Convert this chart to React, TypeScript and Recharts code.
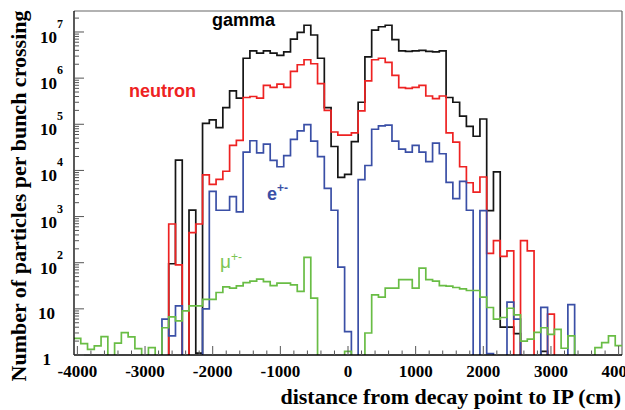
import { LineChart, Line, XAxis, YAxis, ReferenceLine } from "recharts";

// histogram: 81 bins of 100 cm, centred on -4000 ... 4000
const X_MIN = -4050;
const X_MAX = 4050;
const BIN_WIDTH = 100;
const Y_MIN = 1;
const Y_MAX = 2.85e7;

const gamma = [
  0, 0, 0, 0, 0, 0, 0, 0, 0, 0,
  0, 0, 0, 0, 95, 16700, 0, 1380, 1.1, 105000,
  124000, 85000, 230000, 530000, 370000, 2.7e6, 3.9e6, 3.5e6, 3.9e6, 3.5e6,
  3.1e6, 3.7e6, 7e6, 9.8e6, 1.4e7, 8.6e6, 2.7e6, 230000, 33000, 7100,
  8200, 42000, 300000, 2.9e6, 1.1e7, 1.3e7, 1.4e7, 6.8e6, 3.9e6, 3.8e6,
  3.9e6, 4e6, 3.8e6, 3.7e6, 3.9e6, 380000, 300000, 150000, 90000, 55000,
  130000, 1350, 9300, 4, 4, 2.9, 0, 0, 0, 1.2,
  0, 0, 0, 0, 0, 0, 0, 0, 0, 0,
  0,
];

const neutron = [
  0, 0, 0, 0, 0, 0, 0, 0, 0, 0,
  0, 0, 0, 0, 690, 90, 0, 450, 690, 8000,
  5000, 6400, 9600, 35000, 45000, 380000, 400000, 370000, 700000, 630000,
  740000, 630000, 1.4e6, 1.95e6, 2.5e6, 2.05e6, 760000, 200000, 68000, 58000,
  58000, 65000, 195000, 870000, 2.5e6, 2.7e6, 2.2e6, 1.15e6, 620000, 600000,
  630000, 700000, 410000, 360000, 410000, 65000, 41000, 12000, 5400, 3400,
  7200, 160, 300, 137, 180, 0, 300, 180, 0, 0,
  7.7, 0, 0, 0, 0, 0, 0, 0, 0, 0,
  0,
];

const electron = [
  0, 0, 0, 0, 0, 0, 0, 0, 0, 0,
  0, 0, 0, 6, 2.6, 11.6, 0, 0, 0, 10,
  3500, 1370, 1370, 2700, 1260, 25000, 44000, 24000, 37000, 16500,
  12000, 21000, 47000, 72000, 98000, 43000, 20000, 4100, 1370, 80,
  3.2, 0, 6300, 12800, 78000, 92000, 96000, 43000, 29000, 25000,
  35000, 25000, 15500, 39000, 23000, 5500, 2450, 5800, 1370, 0,
  1350, 1.07, 0, 0, 14, 6, 0, 0, 0, 10.8,
  0, 0, 0, 12.4, 0, 0, 0, 0, 0, 0,
  0,
];

const muon = [
  2.3, 1.76, 1.33, 1.57, 2.5, 0, 1.8, 3.05, 2.46, 1.37,
  0, 1.45, 0, 3.9, 6.7, 5.5, 9, 11.6, 11.6, 16,
  16, 22.6, 30, 28, 31.5, 37, 40, 44, 39, 32,
  36, 36, 33, 24, 130, 17, 0, 0, 0, 0,
  1.2, 0, 0, 3, 20, 18, 28, 28, 43, 43,
  28, 76, 43, 40, 32, 31, 29, 27, 25, 25,
  18, 10.7, 6, 6.5, 10.3, 7.4, 2, 2.2, 3.1, 3.9,
  2.8, 3.6, 1.4, 2.6, 0, 0, 0, 1.45, 1.85, 2.6,
  1.6,
];

const xMajorTicks = [-4000, -3000, -2000, -1000, 0, 1000, 2000, 3000, 4000];
const xMinorStep = 200;
const yDecades = [1, 10, 100, 1000, 1e4, 1e5, 1e6, 1e7];
const yMinorFactors = [2, 3, 4, 5, 6, 7, 8, 9];

const PLOT_LEFT = 74;
const PLOT_BOTTOM = 355;
const SERIF = "'Liberation Serif', 'DejaVu Serif', serif";
const SANS = "'Liberation Sans', Arial, sans-serif";

// empty bins are pushed below the axis floor so the outline drops to the frame
const lift = (v: number) => (v > 0 ? v : 0.5);

const rows = gamma.map((_, i) => ({
  x: X_MIN + i * BIN_WIDTH,
  gamma: lift(gamma[i]),
  neutron: lift(neutron[i]),
  electron: lift(electron[i]),
  muon: lift(muon[i]),
}));
const last = gamma.length - 1;
rows.push({
  x: X_MAX,
  gamma: lift(gamma[last]),
  neutron: lift(neutron[last]),
  electron: lift(electron[last]),
  muon: lift(muon[last]),
});

const xTicks: number[] = [];
for (let v = xMajorTicks[0]; v <= xMajorTicks[xMajorTicks.length - 1]; v += xMinorStep) xTicks.push(v);

const yTicks: number[] = [];
yDecades.forEach((d) => {
  yTicks.push(d);
  yMinorFactors.forEach((m) => {
    if (m * d <= Y_MAX) yTicks.push(m * d);
  });
});

function XTick(props: any) {
  const { x, payload } = props;
  const v = payload.value;
  const major = xMajorTicks.includes(v);
  return (
    <g>
      <line x1={x} x2={x} y1={PLOT_BOTTOM} y2={PLOT_BOTTOM - (major ? 9 : 4.5)} stroke="#555" strokeWidth={1} />
      {major && (
        <text x={x} y={377} textAnchor="middle" fontFamily={SERIF} fontWeight="bold" fontSize={17} fill="#000">
          {v}
        </text>
      )}
    </g>
  );
}

function YTick(props: any) {
  const { y, payload } = props;
  const v = payload.value;
  const exp = yDecades.indexOf(v);
  const major = exp >= 0;
  let label = null;
  if (exp === 0) {
    label = (
      <text x={51} y={y + 10} textAnchor="end" fontFamily={SERIF} fontWeight="bold" fontSize={17}>1</text>
    );
  } else if (exp === 1) {
    label = (
      <text x={55} y={y + 10} textAnchor="end" fontFamily={SERIF} fontWeight="bold" fontSize={17}>10</text>
    );
  } else if (exp > 1) {
    label = (
      <text x={63} y={y + 11} textAnchor="end" fontFamily={SERIF} fontWeight="bold" fontSize={17}>
        10<tspan dy={-15} fontSize={12}>{exp}</tspan>
      </text>
    );
  }
  return (
    <g>
      <line x1={PLOT_LEFT} x2={PLOT_LEFT + (major ? 10 : 5)} y1={y} y2={y} stroke="#555" strokeWidth={1} />
      {label}
    </g>
  );
}

export default function App() {
  return (
    <div style={{ position: "absolute", left: 0, top: 0, width: 625, height: 410, background: "#fff" }}>
      <LineChart width={625} height={410} data={rows} margin={{ top: 11, right: 3, left: 0, bottom: 0 }}>
        <XAxis
          dataKey="x"
          type="number"
          domain={[X_MIN, X_MAX]}
          allowDataOverflow
          ticks={xTicks}
          interval={0}
          tickLine={false}
          tick={(p: any) => <XTick {...p} />}
          height={55}
          axisLine={{ stroke: "#000", strokeWidth: 1.3 }}
        />
        <YAxis
          scale="log"
          domain={[Y_MIN, Y_MAX]}
          allowDataOverflow
          ticks={yTicks}
          interval={0}
          tickLine={false}
          tick={(p: any) => <YTick {...p} />}
          width={74}
          axisLine={{ stroke: "#000", strokeWidth: 1.3 }}
        />
        <ReferenceLine y={Y_MAX} stroke="#666" strokeWidth={1.2} />
        <ReferenceLine x={X_MAX} stroke="#666" strokeWidth={1.2} />
        <Line dataKey="gamma" type="stepAfter" stroke="#151515" strokeWidth={1.7} dot={false} isAnimationActive={false} />
        <Line dataKey="neutron" type="stepAfter" stroke="#ee2222" strokeWidth={1.7} dot={false} isAnimationActive={false} />
        <Line dataKey="electron" type="stepAfter" stroke="#3a4fa6" strokeWidth={1.7} dot={false} isAnimationActive={false} />
        <Line dataKey="muon" type="stepAfter" stroke="#69bd45" strokeWidth={1.7} dot={false} isAnimationActive={false} />
        <g>
          <text x={26} y={196} transform="rotate(-90 26 196)" textAnchor="middle" fontFamily={SERIF} fontWeight="bold" fontSize={22} fill="#000">
            Number of particles per bunch crossing
          </text>
          <text x={621} y={404} textAnchor="end" fontFamily={SERIF} fontWeight="bold" fontSize={22} fill="#000">
            distance from decay point to IP (cm)
          </text>
          <text x={212} y={26} fontFamily={SANS} fontWeight="bold" fontSize={18} fill="#000">gamma</text>
          <text x={129} y={97} fontFamily={SANS} fontWeight="bold" fontSize={18} fill="#ee2222">neutron</text>
          <text x={267} y={200} fontFamily={SANS} fontWeight="bold" fontSize={18} fill="#3a4fa6">
            e<tspan dy={-8} fontSize={12}>+-</tspan>
          </text>
          <text x={220} y={268} fontFamily={SANS} fontSize={19} fill="#7cc553">
            μ<tspan dy={-7} fontSize={12}>+-</tspan>
          </text>
        </g>
      </LineChart>
    </div>
  );
}
